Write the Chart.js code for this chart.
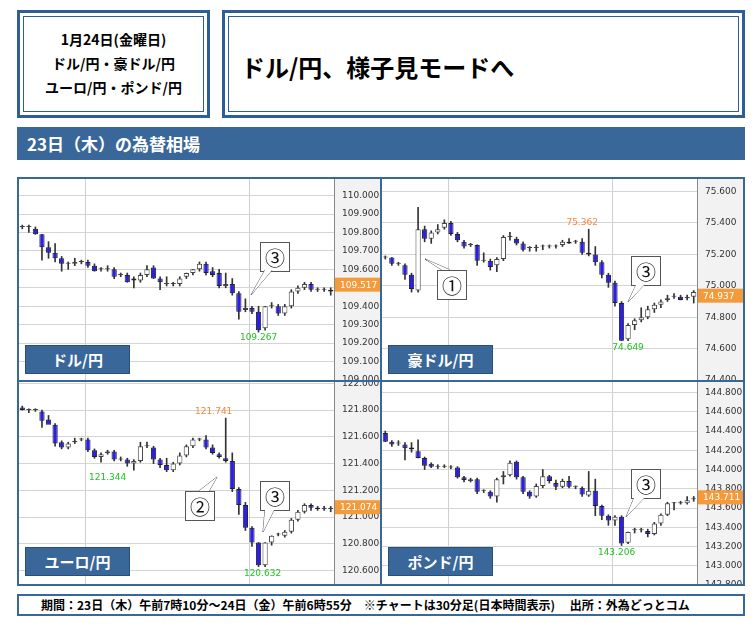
<!DOCTYPE html>
<html><head><meta charset="utf-8">
<script src="https://cdn.jsdelivr.net/npm/chart.js@4.4.1/dist/chart.umd.min.js"></script>
<style>
body{margin:0;background:#fff;font-family:"Noto Sans CJK JP","Noto Sans",sans-serif;}
.box{position:absolute;box-sizing:border-box;border:3px solid #2d5f96;outline:1px solid #2d5f96;outline-offset:-7px;}
#sub{left:17px;top:10px;width:193px;height:108px;text-align:center;font-weight:bold;font-size:14px;line-height:24px;padding-top:14px;}
#ttl{left:222px;top:10px;width:523px;height:108px;font-weight:bold;font-size:24px;line-height:108px;padding-left:16px;}
#ban{position:absolute;left:17px;top:127px;width:728px;height:33px;background:#3a6799;color:#fff;font-weight:bold;font-size:17px;line-height:33px;padding-left:10px;box-sizing:border-box;}
.pan{position:absolute;box-sizing:border-box;border:2px solid #3a6799;}
.pan canvas{position:absolute;left:0;top:0;}
.lab{position:absolute;left:6px;top:166px;width:103px;height:27px;background:#3a6799;color:#fff;font-weight:bold;font-size:15px;line-height:27px;text-align:center;border:1px solid #2a4f7a;}
#foot{position:absolute;left:17px;top:594px;width:728px;height:22px;border:2px solid #3a6799;box-sizing:border-box;font-size:12px;font-weight:bold;line-height:18px;padding-left:22px;}
</style></head><body>
<div class="box" id="sub">1月24日(金曜日)<br>ドル/円・豪ドル/円<br>ユーロ/円・ポンド/円</div>
<div class="box" id="ttl">ドル/円、様子見モードへ</div>
<div id="ban">23日（木）の為替相場</div>
<div class="pan" style="left:17px;top:177px;width:365px;height:205px"><canvas id="c1"></canvas><div class="lab">ドル/円</div></div>
<div class="pan" style="left:380px;top:177px;width:365px;height:205px"><canvas id="c2"></canvas><div class="lab">豪ドル/円</div></div>
<div class="pan" style="left:17px;top:380px;width:365px;height:206px"><canvas id="c3"></canvas><div class="lab" style="top:165px">ユーロ/円</div></div>
<div class="pan" style="left:380px;top:380px;width:365px;height:206px"><canvas id="c4"></canvas><div class="lab" style="top:165px">ポンド/円</div></div>
<div id="foot">期間：23日（木）午前7時10分～24日（金）午前6時55分　※チャートは30分足(日本時間表示)　 出所：外為どっとコム</div>
<script>
// [open, high, low, close]
const usdjpy = [
[109.83,109.84,109.82,109.83],[109.83,109.84,109.80,109.83],[109.82,109.83,109.79,109.79],[109.79,109.79,109.65,109.72],
[109.72,109.75,109.66,109.69],[109.69,109.74,109.64,109.66],[109.66,109.67,109.59,109.63],[109.63,109.64,109.60,109.63],
[109.63,109.66,109.62,109.64],[109.64,109.65,109.63,109.64],[109.64,109.65,109.61,109.62],[109.62,109.63,109.59,109.59],
[109.60,109.61,109.59,109.60],[109.60,109.62,109.59,109.60],[109.60,109.61,109.55,109.56],[109.57,109.58,109.56,109.57],
[109.57,109.58,109.53,109.53],[109.55,109.56,109.50,109.54],[109.54,109.58,109.53,109.57],[109.57,109.62,109.56,109.60],
[109.61,109.62,109.55,109.55],[109.55,109.56,109.49,109.53],[109.52,109.56,109.51,109.52],[109.52,109.53,109.51,109.52],
[109.52,109.56,109.51,109.55],[109.56,109.58,109.55,109.58],[109.58,109.60,109.57,109.60],[109.60,109.64,109.59,109.63],
[109.63,109.64,109.57,109.58],[109.59,109.61,109.56,109.57],[109.58,109.60,109.50,109.51],[109.51,109.58,109.50,109.52],
[109.52,109.55,109.46,109.47],[109.47,109.48,109.33,109.37],[109.38,109.44,109.37,109.39],[109.39,109.40,109.36,109.37],
[109.37,109.40,109.26,109.27],[109.28,109.40,109.27,109.40],[109.40,109.42,109.39,109.40],[109.40,109.41,109.35,109.36],
[109.36,109.41,109.35,109.40],[109.40,109.49,109.39,109.48],[109.48,109.51,109.47,109.50],[109.50,109.53,109.49,109.52],
[109.52,109.53,109.48,109.49],[109.49,109.50,109.48,109.49],[109.49,109.50,109.48,109.49],[109.49,109.50,109.46,109.48]];
const audjpy = [
[75.18,75.19,75.17,75.18],[75.18,75.18,75.13,75.14],[75.14,75.15,75.13,75.14],[75.13,75.14,75.04,75.07],
[75.07,75.08,74.96,74.98],[74.97,75.50,74.96,75.36],[75.36,75.38,75.28,75.30],[75.30,75.35,75.27,75.34],
[75.34,75.39,75.33,75.36],[75.37,75.42,75.36,75.40],[75.40,75.41,75.32,75.33],[75.33,75.34,75.28,75.29],
[75.28,75.29,75.24,75.25],[75.26,75.27,75.25,75.26],[75.26,75.26,75.13,75.16],[75.16,75.21,75.15,75.16],
[75.16,75.17,75.10,75.12],[75.13,75.18,75.09,75.17],[75.17,75.32,75.16,75.31],[75.31,75.34,75.29,75.31],
[75.30,75.31,75.26,75.27],[75.27,75.28,75.22,75.23],[75.24,75.25,75.22,75.24],[75.24,75.26,75.22,75.24],
[75.25,75.26,75.23,75.25],[75.25,75.26,75.24,75.25],[75.25,75.26,75.24,75.25],[75.26,75.29,75.25,75.28],
[75.28,75.30,75.27,75.27],[75.28,75.29,75.27,75.28],[75.28,75.30,75.20,75.21],[75.21,75.36,75.19,75.20],
[75.20,75.25,75.13,75.15],[75.15,75.16,75.05,75.07],[75.07,75.08,74.99,75.02],[75.02,75.03,74.87,74.89],
[74.89,74.90,74.65,74.65],[74.66,74.76,74.65,74.75],[74.75,74.79,74.72,74.78],[74.78,74.86,74.77,74.80],
[74.80,74.87,74.79,74.85],[74.85,74.89,74.83,74.88],[74.88,74.91,74.86,74.90],[74.91,74.94,74.90,74.92],
[74.93,74.95,74.92,74.93],[74.93,74.94,74.91,74.91],[74.92,74.94,74.91,74.93],[74.93,74.97,74.89,74.96]];
const eurjpy = [
[121.82,121.83,121.80,121.80],[121.80,121.81,121.78,121.80],[121.80,121.81,121.79,121.80],[121.79,121.80,121.67,121.72],
[121.73,121.76,121.70,121.69],[121.69,121.70,121.53,121.55],[121.56,121.57,121.51,121.52],[121.52,121.56,121.51,121.55],
[121.56,121.59,121.55,121.57],[121.58,121.59,121.57,121.58],[121.58,121.59,121.49,121.50],[121.50,121.51,121.44,121.45],
[121.45,121.48,121.41,121.47],[121.48,121.50,121.47,121.49],[121.49,121.50,121.42,121.43],[121.43,121.45,121.42,121.43],
[121.43,121.44,121.38,121.40],[121.40,121.43,121.35,121.42],[121.42,121.56,121.41,121.53],[121.53,121.56,121.52,121.53],
[121.52,121.53,121.40,121.43],[121.43,121.44,121.37,121.39],[121.39,121.44,121.34,121.35],[121.35,121.41,121.34,121.40],
[121.40,121.48,121.39,121.46],[121.46,121.54,121.45,121.53],[121.53,121.59,121.52,121.58],[121.58,121.59,121.57,121.58],
[121.58,121.61,121.51,121.52],[121.52,121.54,121.47,121.48],[121.47,121.48,121.44,121.45],[121.44,121.74,121.41,121.42],
[121.42,121.48,121.19,121.21],[121.21,121.22,121.02,121.09],[121.09,121.11,120.90,120.92],[120.92,120.93,120.78,120.81],
[120.81,120.81,120.63,120.64],[120.64,120.81,120.63,120.81],[120.81,120.86,120.79,120.86],[120.87,120.88,120.86,120.87],
[120.86,120.90,120.85,120.89],[120.89,120.99,120.88,120.98],[120.98,121.05,120.97,121.04],[121.04,121.10,121.03,121.09],
[121.09,121.10,121.05,121.07],[121.07,121.08,121.05,121.06],[121.06,121.08,121.05,121.07],[121.06,121.08,121.04,121.06]];
const gbpjpy = [
[144.38,144.40,144.29,144.29],[144.29,144.30,144.24,144.26],[144.27,144.30,144.25,144.27],[144.26,144.28,144.10,144.22],
[144.23,144.28,144.18,144.21],[144.19,144.31,144.12,144.12],[144.12,144.13,144.00,144.04],[144.06,144.07,144.02,144.03],
[144.03,144.05,144.01,144.03],[144.03,144.05,144.02,144.03],[144.02,144.04,144.01,144.02],[144.02,144.03,143.91,143.92],
[143.92,143.93,143.87,143.89],[143.88,143.91,143.87,143.90],[143.90,143.91,143.75,143.77],[143.78,143.79,143.76,143.78],
[143.77,143.78,143.70,143.72],[143.72,143.91,143.66,143.90],[143.92,143.98,143.85,143.94],[143.94,144.09,143.93,144.07],
[144.08,144.09,143.90,143.92],[143.92,143.93,143.75,143.77],[143.77,143.78,143.70,143.72],[143.72,143.85,143.71,143.83],
[143.83,144.00,143.81,143.93],[143.93,143.94,143.86,143.88],[143.86,143.89,143.79,143.82],[143.82,143.90,143.81,143.88],
[143.88,143.93,143.81,143.82],[143.82,143.83,143.80,143.82],[143.81,143.82,143.72,143.74],[143.73,143.98,143.72,143.78],
[143.78,143.90,143.52,143.62],[143.62,143.63,143.48,143.52],[143.52,143.53,143.42,143.47],[143.47,143.52,143.42,143.51],
[143.51,143.52,143.21,143.23],[143.24,143.35,143.23,143.35],[143.37,143.39,143.34,143.37],[143.37,143.39,143.35,143.37],
[143.36,143.38,143.30,143.33],[143.33,143.45,143.32,143.44],[143.44,143.54,143.42,143.53],[143.53,143.66,143.52,143.65],
[143.65,143.66,143.58,143.65],[143.65,143.67,143.64,143.65],[143.65,143.72,143.64,143.68],[143.69,143.72,143.67,143.70]];

const ticksUsd = [109.0,109.1,109.2,109.3,109.4,109.5,109.6,109.7,109.8,109.9,110.0];
const ticksAud = [74.4,74.6,74.8,75.0,75.2,75.4,75.6];
const ticksEur = [120.6,120.8,121.0,121.2,121.4,121.6,121.8,122.0];
const ticksGbp = [142.8,143.0,143.2,143.4,143.6,143.8,144.0,144.2,144.4,144.6,144.8];

const BLUE = '#2b1ee6';

const deco = {
  id: 'deco',
  beforeDraw(chart, a, o) {
    const {ctx, chartArea: c, scales: {x}} = chart;
    ctx.save();
    ctx.fillStyle = '#f2f2f2';
    ctx.fillRect(c.right, 0, chart.width - c.right, chart.height);
    ctx.strokeStyle = '#888'; ctx.lineWidth = 1;
    ctx.beginPath(); ctx.moveTo(c.right + 0.5, 0); ctx.lineTo(c.right + 0.5, chart.height); ctx.stroke();
    ctx.strokeStyle = '#cfcfcf';
    for (const i of o.vlines) {
      const px = Math.round(x.getPixelForValue(i)) + 0.5;
      ctx.beginPath(); ctx.moveTo(px, 0); ctx.lineTo(px, chart.height); ctx.stroke();
    }
    ctx.restore();
  },
  afterDraw(chart, a, o) {
    const {ctx, chartArea: c, scales: {x, y}} = chart;
    ctx.save();
    // current price tag
    const py = y.getPixelForValue(o.last);
    ctx.fillStyle = '#f39a3a';
    ctx.fillRect(c.right + 1, py - 7, chart.width - c.right, 14);
    ctx.fillStyle = '#fff'; ctx.font = '9px "DejaVu Sans"'; ctx.textBaseline = 'middle';
    ctx.fillText(o.last.toFixed(3), c.right + 6, py + 0.5);
    // high/low labels
    ctx.font = '9px "DejaVu Sans"'; ctx.textAlign = 'center';
    for (const m of o.marks) {
      ctx.fillStyle = m.hi ? '#f5883a' : '#22c322';
      const mx = x.getPixelForValue(m.i) + (m.dx || 0);
      const my = y.getPixelForValue(m.v) + (m.hi ? -6 : 7);
      ctx.fillText(m.v.toFixed(3), mx, my);
    }
    // callouts
    ctx.textAlign = 'center';
    for (const b of o.callouts) {
      ctx.fillStyle = '#fff'; ctx.strokeStyle = '#555'; ctx.lineWidth = 1;
      ctx.fillRect(b.x, b.y, 29, 29); ctx.strokeRect(b.x + 0.5, b.y + 0.5, 29, 29);
      ctx.beginPath(); ctx.moveTo(b.t[0], b.t[1]); ctx.lineTo(b.t[2], b.t[3]); ctx.lineTo(b.t[4], b.t[5]); ctx.stroke();
      ctx.fillStyle = '#fff'; ctx.beginPath(); ctx.moveTo(b.t[0], b.t[1]); ctx.lineTo(b.t[2], b.t[3]); ctx.lineTo(b.t[4], b.t[5]); ctx.fill();
      ctx.fillStyle = '#111'; ctx.font = '20px "Noto Sans CJK JP"';
      ctx.fillText(b.s, b.x + 15, b.y + 16);
    }
    ctx.restore();
  }
};

function makeChart(id, data, ticks, min, max, opts) {
  const labels = data.map((d, i) => i);
  new Chart(document.getElementById(id), {
    type: 'bar',
    data: {
      labels,
      datasets: [
        { data: data.map(d => [d[2], d[1]]), backgroundColor: '#333', barThickness: 1, grouped: false, order: 2 },
        { data: data.map(d => [d[0], d[3]]),
          backgroundColor: data.map(d => d[3] < d[0] ? BLUE : '#fff'),
          borderColor: data.map(d => d[3] < d[0] ? '#222' : '#444'),
          borderWidth: 1, borderSkipped: false, minBarLength: 1,
          barPercentage: 0.8, categoryPercentage: 1, grouped: false, order: 1 }
      ]
    },
    plugins: [deco],
    options: {
      responsive: false, animation: false,
      layout: { padding: 0 },
      plugins: { legend: { display: false }, tooltip: { enabled: false }, deco: opts },
      scales: {
        x: { display: false, offset: true },
        y: {
          position: 'right', min, max,
          afterBuildTicks: s => { s.ticks = ticks.map(v => ({ value: v })); },
          afterFit: s => { s.width = 46; s.paddingTop = 0; s.paddingBottom = 0; },
          border: { display: false },
          grid: { color: '#d4d4d4', drawTicks: false },
          ticks: { padding: 8, color: '#333', font: { size: 9, family: 'DejaVu Sans' }, callback: v => v.toFixed(3) }
        }
      }
    }
  });
}

function sizeCanvas(id) {
  const cv = document.getElementById(id);
  const p = cv.parentElement;
  cv.width = p.clientWidth; cv.height = p.clientHeight;
  cv.style.width = p.clientWidth + 'px'; cv.style.height = p.clientHeight + 'px';
}
['c1','c2','c3','c4'].forEach(sizeCanvas);

makeChart('c1', usdjpy, ticksUsd, 109.0, 110.09, {
  vlines: [9.5, 34.5], last: 109.517,
  marks: [{ i: 36, v: 109.267, dx: 0 }],
  callouts: [{ s: '③', x: 241, y: 63, t: [246, 91, 232, 116, 253, 91] }]
});
makeChart('c2', audjpy, ticksAud, 74.40, 75.68, {
  vlines: [9.5, 34.5], last: 74.937,
  marks: [{ i: 30, v: 75.362, hi: true, dx: 0 }, { i: 37, v: 74.649 }],
  callouts: [{ s: '①', x: 55, y: 91, t: [60, 91, 43, 80, 68, 91] },
             { s: '③', x: 249, y: 77, t: [254, 106, 246, 123, 262, 106] }]
});
makeChart('c3', eurjpy, ticksEur, 120.50, 122.01, {
  vlines: [9.5, 34.5], last: 121.074,
  marks: [{ i: 31, v: 121.741, hi: true, dx: -12 }, { i: 13, v: 121.344, dx: 0 }, { i: 36, v: 120.632, dx: 4 }],
  callouts: [{ s: '②', x: 166, y: 109, t: [180, 109, 198, 95, 190, 109] },
             { s: '③', x: 241, y: 99, t: [246, 128, 244, 150, 255, 128] }]
});
makeChart('c4', gbpjpy, ticksGbp, 142.81, 144.91, {
  vlines: [9.5, 34.5], last: 143.711,
  marks: [{ i: 36, v: 143.206, dx: -5 }],
  callouts: [{ s: '③', x: 249, y: 87, t: [252, 116, 244, 135, 262, 116] }]
});
</script>
</body></html>
